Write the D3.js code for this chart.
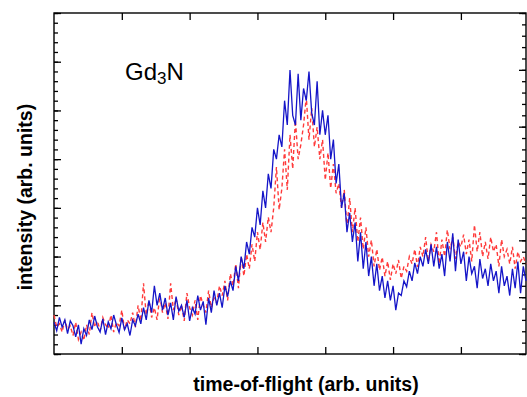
<!DOCTYPE html>
<html>
<head>
<meta charset="utf-8">
<script src="https://cdn.jsdelivr.net/npm/d3@7"></script>
<style>
  body { margin: 0; background: #fff; }
  text { font-family: Arial, "Liberation Sans", sans-serif; }
</style>
</head>
<body>
<div id="chart"></div>
<script>
// counts per time-of-flight channel
const blueCounts = [
  65, 48, 75, 55, 70, 42, 68, 58, 35, 60,
  20, 52, 38, 70, 50, 78, 56, 45, 72, 40,
  66, 52, 80, 60, 44, 74, 50, 62, 38, 70,
  58, 82, 62, 95, 70, 110, 85, 140, 100, 125,
  90, 115, 80, 105, 70, 118, 88, 100, 75, 110,
  68, 95, 82, 120, 90, 108, 60, 115, 85, 130,
  100, 125, 95, 140, 118, 150, 130, 180, 150, 200,
  175, 230, 205, 260, 240, 300, 265, 335, 300, 370,
  340, 420, 400, 450, 425, 520, 470, 583, 490, 470,
  575, 480, 545, 520, 580, 495, 470, 560, 450, 500,
  450, 490, 400, 440, 350, 390, 300, 330, 250, 290,
  230, 270, 190, 250, 175, 230, 160, 200, 140, 185,
  130, 160, 115, 150, 110, 140, 90, 125, 120, 150,
  138, 170, 150, 187, 165, 200, 180, 215, 185, 225,
  180, 220, 175, 205, 160, 230, 190, 248, 170, 235,
  185, 210, 150, 200, 165, 180, 135, 195, 155, 175,
  140, 185, 150, 170, 125, 180, 140, 160, 120, 175,
  135, 190, 125, 180, 150
];
const redCounts = [
  80, 55, 62, 45, 70, 50, 58, 38, 65, 30,
  45, 28, 60, 40, 85, 55, 68, 48, 75, 60,
  52, 80, 45, 65, 58, 90, 50, 70, 62, 85,
  55, 100, 68, 145, 80, 110, 75, 95, 70, 120,
  85, 105, 72, 145, 90, 115, 80, 100, 68, 125,
  95, 80, 110, 70, 120, 100, 85, 130, 95, 115,
  105, 140, 120, 150, 110, 165, 140, 185, 135, 200,
  160, 205, 175, 225, 190, 250, 214, 270, 230, 281,
  250, 300, 384, 296, 340, 420, 337, 450, 380, 480,
  400, 430, 470, 528, 440, 505, 425, 466, 400, 440,
  357, 413, 340, 390, 330, 350, 300, 337, 260, 320,
  250, 300, 230, 280, 215, 260, 200, 234, 180, 215,
  172, 199, 160, 190, 152, 185, 165, 193, 155, 180,
  170, 200, 185, 215, 179, 220, 200, 240, 190, 225,
  210, 250, 185, 235, 200, 255, 215, 240, 195, 230,
  220, 245, 205, 235, 190, 265, 210, 250, 200, 230,
  195, 240, 210, 225, 180, 235, 200, 215, 185, 220,
  175, 210, 190, 200, 185
];
const xTicks = [25, 50, 75, 100, 125, 150];

const W = 527, H = 397;
const margin = { top: 13, right: 1, bottom: 43, left: 54 };
const width = W - margin.left - margin.right,
  height = H - margin.top - margin.bottom;

const svg = d3.select('#chart').append('svg')
  .attr('width', W)
  .attr('height', H);
const g = svg.append('g')
  .attr('transform', `translate(${margin.left},${margin.top})`);

const xScale = d3.scaleLinear().domain([0, 174]).range([0, width]);
const yScale = d3.scaleLinear().domain([0, 700]).range([height, 0]);
// right-hand axis has its own (unlabelled) scale
const yRight = d3.scaleLinear().domain([0, 6]).range([height, 0]);

// ticks, all pointing inward, no labels
function ticks(axis, values, size) {
  return axis.tickValues(values).tickSize(size).tickFormat('');
}
const minorL = d3.range(0, 701, 20), majorL = d3.range(0, 701, 100);
const minorR = d3.range(0, 6.01, 0.2), majorR = d3.range(0, 7, 1);

const axes = g.append('g').attr('class', 'axes');
axes.append('g').call(ticks(d3.axisLeft(yScale), minorL, -4));
axes.append('g').call(ticks(d3.axisLeft(yScale), majorL, -7));
axes.append('g').attr('transform', `translate(${width},0)`)
  .call(ticks(d3.axisRight(yRight), minorR, -4));
axes.append('g').attr('transform', `translate(${width},0)`)
  .call(ticks(d3.axisRight(yRight), majorR, -7));
axes.append('g').attr('transform', `translate(0,${height})`)
  .call(ticks(d3.axisBottom(xScale), xTicks, -7));
axes.append('g')
  .call(ticks(d3.axisTop(xScale), xTicks, -7));
axes.selectAll('.domain').remove();
axes.selectAll('line').attr('stroke', '#000').attr('stroke-width', 1.3);

// frame
g.append('rect')
  .attr('width', width).attr('height', height)
  .attr('fill', 'none').attr('stroke', '#000').attr('stroke-width', 1.4);

const line = d3.line()
  .x((d, i) => xScale(i))
  .y(d => yScale(d));

g.append('path')
  .datum(redCounts)
  .attr('d', line)
  .attr('fill', 'none')
  .attr('stroke', '#ff3b3b')
  .attr('stroke-width', 1.4)
  .attr('stroke-dasharray', '4,3');

g.append('path')
  .datum(blueCounts)
  .attr('d', line)
  .attr('fill', 'none')
  .attr('stroke', '#1515c8')
  .attr('stroke-width', 1.3);

// sample label
const lbl = g.append('text')
  .attr('x', 71).attr('y', 67)
  .style('font-size', '24px');
lbl.append('tspan').text('Gd');
lbl.append('tspan').text('3').style('font-size', '17px').attr('dy', 4);
lbl.append('tspan').text('N').attr('dy', -4);

svg.append('text')
  .attr('transform', 'translate(32,197) rotate(-90)')
  .attr('text-anchor', 'middle')
  .style('font-size', '19.5px')
  .style('font-weight', 'bold')
  .text('intensity (arb. units)');

svg.append('text')
  .attr('x', 306).attr('y', 391)
  .attr('text-anchor', 'middle')
  .style('font-size', '19.5px')
  .style('font-weight', 'bold')
  .text('time-of-flight (arb. units)');
</script>
</body>
</html>
